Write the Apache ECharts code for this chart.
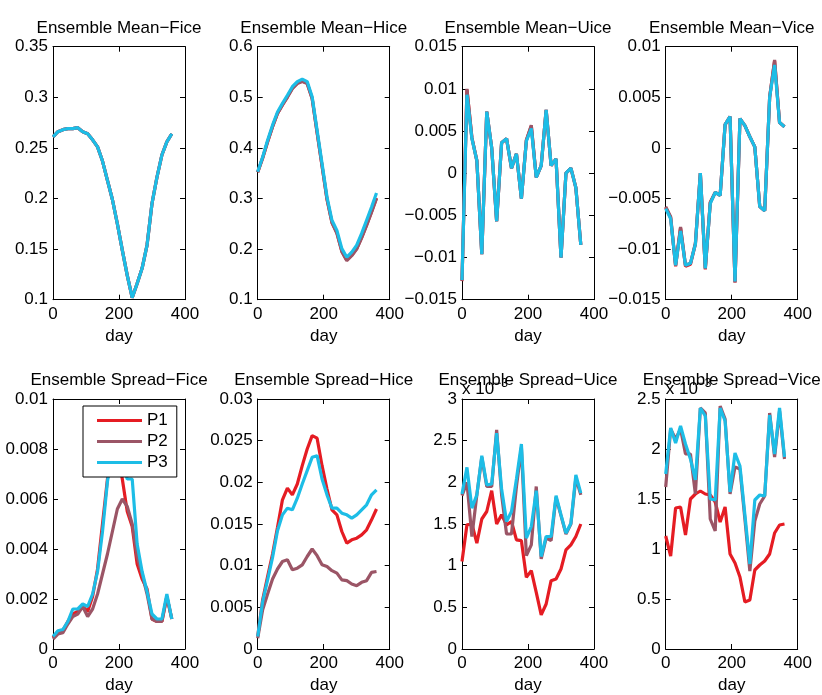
<!DOCTYPE html>
<html>
<head>
<meta charset="utf-8">
<script src="https://cdn.jsdelivr.net/npm/echarts@6/dist/echarts.min.js"></script>
<style>html,body{margin:0;padding:0;background:#fff}#c{width:822px;height:695px}</style>
</head>
<body>
<div id="c"></div>
<script>
// ---------- data ----------
const days = [0,15,30,45,60,75,90,105,120,135,150,165,180,195,210,225,240,255,270,285,300,315,330,345,360];
const seriesNames = ['P1','P2','P3'];
const titles = ['Ensemble Mean\u2212Fice','Ensemble Mean\u2212Hice','Ensemble Mean\u2212Uice','Ensemble Mean\u2212Vice',
                'Ensemble Spread\u2212Fice','Ensemble Spread\u2212Hice','Ensemble Spread\u2212Uice','Ensemble Spread\u2212Vice'];
const xTicks = {min:0, max:400, interval:200};
const yTicks = [
  {min:0.1, max:0.35, interval:0.05},
  {min:0.1, max:0.6, interval:0.1},
  {min:-0.015, max:0.015, interval:0.005},
  {min:-0.015, max:0.01, interval:0.005},
  {min:0, max:0.01, interval:0.002},
  {min:0, max:0.03, interval:0.005},
  {min:0, max:3, interval:0.5},
  {min:0, max:2.5, interval:0.5}
];

const meanFiceP1 = [0.261,0.266,0.268,0.269,0.269,0.270,0.266,0.264,0.258,0.251,0.237,0.218,0.199,0.175,0.149,0.124,0.102,0.116,0.131,0.154,0.195,0.221,0.243,0.256,0.264];
const meanFiceP2 = [0.261,0.266,0.268,0.269,0.269,0.270,0.266,0.264,0.258,0.251,0.237,0.218,0.199,0.175,0.149,0.124,0.102,0.116,0.131,0.154,0.195,0.221,0.243,0.256,0.264];
const meanFiceP3 = [0.261,0.266,0.268,0.269,0.269,0.270,0.266,0.264,0.258,0.251,0.237,0.218,0.199,0.175,0.149,0.124,0.102,0.116,0.131,0.154,0.195,0.221,0.243,0.256,0.264];

const meanHiceP1 = [0.352,0.380,0.412,0.442,0.468,0.485,0.501,0.518,0.528,0.532,0.528,0.498,0.431,0.365,0.299,0.253,0.232,0.196,0.178,0.188,0.201,0.223,0.248,0.274,0.301];
const meanHiceP2 = [0.352,0.380,0.412,0.442,0.468,0.485,0.500,0.517,0.527,0.531,0.527,0.497,0.430,0.364,0.298,0.252,0.231,0.195,0.177,0.187,0.200,0.222,0.247,0.273,0.300];
const meanHiceP3 = [0.353,0.382,0.415,0.445,0.471,0.488,0.504,0.521,0.531,0.536,0.531,0.501,0.435,0.369,0.303,0.257,0.237,0.201,0.184,0.194,0.208,0.231,0.257,0.283,0.311];

const meanUiceP1 = [-0.0128,0.0099,0.0042,0.0015,-0.0096,0.0073,0.0030,-0.0057,0.0036,0.0041,0.0006,0.0023,-0.0030,0.0039,0.0056,-0.0005,0.0009,0.0075,0.0009,0.0017,-0.0100,0.0000,0.0006,-0.0017,-0.0085];
const meanUiceP2 = [-0.0127,0.0100,0.0042,0.0015,-0.0096,0.0073,0.0030,-0.0057,0.0036,0.0041,0.0006,0.0023,-0.0030,0.0039,0.0057,-0.0005,0.0009,0.0075,0.0009,0.0017,-0.0100,0.0000,0.0006,-0.0017,-0.0085];
const meanUiceP3 = [-0.0127,0.0093,0.0041,0.0015,-0.0096,0.0073,0.0030,-0.0057,0.0036,0.0041,0.0006,0.0023,-0.0030,0.0038,0.0053,-0.0005,0.0009,0.0075,0.0009,0.0017,-0.0100,0.0000,0.0006,-0.0017,-0.0085];

const meanViceP1 = [-0.0059,-0.0069,-0.0117,-0.0079,-0.0117,-0.0115,-0.0095,-0.0025,-0.0120,-0.0054,-0.0044,-0.0047,0.0023,0.0031,-0.0133,0.0029,0.0022,0.0011,0.0001,-0.0058,-0.0062,0.0050,0.0086,0.0025,0.0021];
const meanViceP2 = [-0.0058,-0.0068,-0.0116,-0.0078,-0.0116,-0.0114,-0.0094,-0.0025,-0.0119,-0.0054,-0.0044,-0.0047,0.0023,0.0031,-0.0133,0.0029,0.0022,0.0011,0.0001,-0.0058,-0.0062,0.0050,0.0087,0.0025,0.0021];
const meanViceP3 = [-0.0060,-0.0070,-0.0116,-0.0082,-0.0116,-0.0114,-0.0095,-0.0025,-0.0119,-0.0055,-0.0044,-0.0047,0.0023,0.0031,-0.0132,0.0029,0.0022,0.0011,0.0001,-0.0058,-0.0062,0.0050,0.0082,0.0025,0.0021];

const spreadFiceP1 = [0.00045,0.0007,0.00075,0.0011,0.0014,0.0015,0.0017,0.0015,0.0021,0.0032,0.0050,0.0068,0.0078,0.0079,0.0068,0.0055,0.0049,0.0034,0.0028,0.0024,0.0012,0.0011,0.0011,0.0021,0.0012];
const spreadFiceP2 = [0.0004,0.0006,0.00065,0.0010,0.0013,0.0014,0.0017,0.0013,0.0016,0.0022,0.0030,0.0038,0.0047,0.0056,0.0060,0.0057,0.0050,0.0037,0.0030,0.0022,0.0012,0.0011,0.0011,0.0021,0.0012];
const spreadFiceP3 = [0.0005,0.00073,0.00078,0.0011,0.0016,0.0016,0.0018,0.0017,0.0022,0.0031,0.0047,0.0067,0.0080,0.0082,0.0075,0.0068,0.0068,0.0042,0.0031,0.0023,0.0014,0.0012,0.0012,0.0022,0.0012];

const spreadHiceP1 = [0.0015,0.0059,0.0087,0.0114,0.0146,0.0179,0.0193,0.0185,0.0198,0.0220,0.0240,0.0256,0.0253,0.0220,0.0192,0.0167,0.0161,0.0141,0.0127,0.0131,0.0133,0.0137,0.0143,0.0155,0.0168];
const spreadHiceP2 = [0.0013,0.0047,0.0066,0.0084,0.0096,0.0105,0.0107,0.0095,0.0097,0.0101,0.0111,0.0120,0.0112,0.0101,0.0099,0.0094,0.0091,0.0083,0.0082,0.0078,0.0076,0.0080,0.0082,0.0092,0.0093];
const spreadHiceP3 = [0.0015,0.0057,0.0083,0.0110,0.0142,0.0161,0.0169,0.0167,0.0181,0.0198,0.0214,0.0230,0.0232,0.0204,0.0185,0.0169,0.0169,0.0163,0.0161,0.0157,0.0161,0.0167,0.0173,0.0185,0.0191];

// Spread Uice / Vice in units of 1e-3
const spreadUiceP1 = [1.05,1.49,1.50,1.27,1.56,1.65,1.90,1.50,1.61,1.49,1.53,1.31,1.30,0.86,0.94,0.68,0.41,0.54,0.82,0.84,0.96,1.19,1.25,1.35,1.50];
const spreadUiceP2 = [1.84,2.00,1.35,1.85,2.30,1.95,1.95,2.63,1.85,1.38,1.38,1.95,2.42,1.12,1.25,1.95,1.08,1.33,1.30,1.82,1.60,1.38,1.50,2.05,1.85];
const spreadUiceP3 = [1.86,2.18,1.69,1.85,2.32,1.97,1.98,2.59,1.92,1.53,1.65,2.04,2.46,1.33,1.47,1.90,1.11,1.35,1.35,1.84,1.61,1.39,1.51,2.09,1.87];

const spreadViceP1 = [1.13,0.93,1.41,1.42,1.14,1.50,1.55,1.58,1.55,1.54,1.47,1.27,1.42,0.95,0.86,0.72,0.47,0.49,0.79,0.84,0.88,0.95,1.16,1.24,1.25];
const spreadViceP2 = [1.62,2.20,2.10,2.20,1.95,1.95,1.55,2.41,2.36,1.30,1.18,2.43,2.30,1.55,1.82,1.80,1.30,0.78,1.28,1.45,1.53,2.36,1.92,2.38,1.90];
const spreadViceP3 = [1.75,2.21,2.06,2.23,2.05,1.90,1.69,2.41,2.33,1.50,1.49,2.41,2.28,1.57,1.96,1.83,1.34,0.85,1.49,1.54,1.53,2.34,1.95,2.41,1.92];

const panels = [
  [meanFiceP1, meanFiceP2, meanFiceP3],
  [meanHiceP1, meanHiceP2, meanHiceP3],
  [meanUiceP1, meanUiceP2, meanUiceP3],
  [meanViceP1, meanViceP2, meanViceP3],
  [spreadFiceP1, spreadFiceP2, spreadFiceP3],
  [spreadHiceP1, spreadHiceP2, spreadHiceP3],
  [spreadUiceP1, spreadUiceP2, spreadUiceP3],
  [spreadViceP1, spreadViceP2, spreadViceP3]
];
const scaledPanels = [6, 7]; // shown with "x 10^-3" multiplier

// ---------- layout / style ----------
const FONT = '"Liberation Sans", Arial, Helvetica, sans-serif';
const colors = ['#e51c23', '#9b5566', '#1dbde6'];
const colLeft = [53, 257.7, 462, 665.7];
const rowTop = [46.7, 399];
const gw = 132, gh = 253;

function fmt(v) {
  const s = String(parseFloat(Number(v).toPrecision(8)));
  return s.replace('-', '\u2212');
}

const grid = [], xAxis = [], yAxis = [], series = [], title = [], graphic = [];
for (let g = 0; g < 8; g++) {
  const r = Math.floor(g / 4), c = g % 4;
  grid.push({left: colLeft[c], top: rowTop[r], width: gw, height: gh, show: false});
  const axLine = {show: true, onZero: false, lineStyle: {color: '#000', width: 1}};
  const tick = {show: true, inside: true, length: 5, lineStyle: {color: '#000', width: 1}};
  xAxis.push({type: 'value', gridIndex: g, position: 'bottom', min: xTicks.min, max: xTicks.max, interval: xTicks.interval,
    axisLine: axLine, axisTick: tick, splitLine: {show: false},
    axisLabel: {fontSize: 17, color: '#000', margin: 6, fontFamily: FONT},
    name: 'day', nameLocation: 'middle', nameGap: 28,
    nameTextStyle: {fontSize: 17, color: '#000', fontFamily: FONT}});
  xAxis.push({type: 'value', gridIndex: g, position: 'top', min: xTicks.min, max: xTicks.max, interval: xTicks.interval,
    axisLine: axLine, axisTick: tick, splitLine: {show: false}, axisLabel: {show: false}});
  const yt = yTicks[g];
  yAxis.push({type: 'value', gridIndex: g, position: 'left', min: yt.min, max: yt.max, interval: yt.interval,
    axisLine: axLine, axisTick: tick, splitLine: {show: false},
    axisLabel: {fontSize: 17, color: '#000', margin: 5, fontFamily: FONT, formatter: fmt}});
  yAxis.push({type: 'value', gridIndex: g, position: 'right', min: yt.min, max: yt.max, interval: yt.interval,
    axisLine: axLine, axisTick: tick, splitLine: {show: false}, axisLabel: {show: false}});
  title.push({text: titles[g], left: colLeft[c] + gw / 2, top: r === 0 ? 20 : 372, textAlign: 'center', padding: 0,
    textStyle: {fontSize: 17, fontWeight: 'normal', color: '#000', fontFamily: FONT}});
  for (let s = 0; s < 3; s++) {
    series.push({type: 'line', name: seriesNames[s], xAxisIndex: g * 2, yAxisIndex: g * 2,
      data: days.map((d, i) => [d, panels[g][s][i]]),
      symbol: 'none', showSymbol: false, color: colors[s],
      lineStyle: {width: 3.2, color: colors[s]}, z: 2 + s, animation: false});
  }
  if (scaledPanels.includes(g)) {
    graphic.push({type: 'text', left: colLeft[c], top: 378, z: 1,
      style: {text: 'x 10{sup|\u22123}', font: '17px ' + FONT, fill: '#000',
        rich: {sup: {fontSize: 12, fontFamily: FONT, verticalAlign: 'top', padding: [0, 0, 10, 0]}}}});
  }
}

const chart = echarts.init(document.getElementById('c'), null, {renderer: 'canvas'});
chart.setOption({
  backgroundColor: '#fff',
  animation: false,
  title: title,
  grid: grid,
  xAxis: xAxis,
  yAxis: yAxis,
  series: series,
  graphic: graphic,
  legend: {data: seriesNames.map((n, i) => ({name: n, icon: 'rect', itemStyle: {color: colors[i]}})),
    orient: 'vertical', left: 83, top: 406, padding: [6, 9, 6, 14], z: 20,
    itemWidth: 45, itemHeight: 3, itemGap: 4, borderColor: '#000', borderWidth: 1, backgroundColor: '#fff',
    textStyle: {fontSize: 17, color: '#000', fontFamily: FONT, lineHeight: 17}, selectedMode: false}
});
</script>
</body>
</html>
